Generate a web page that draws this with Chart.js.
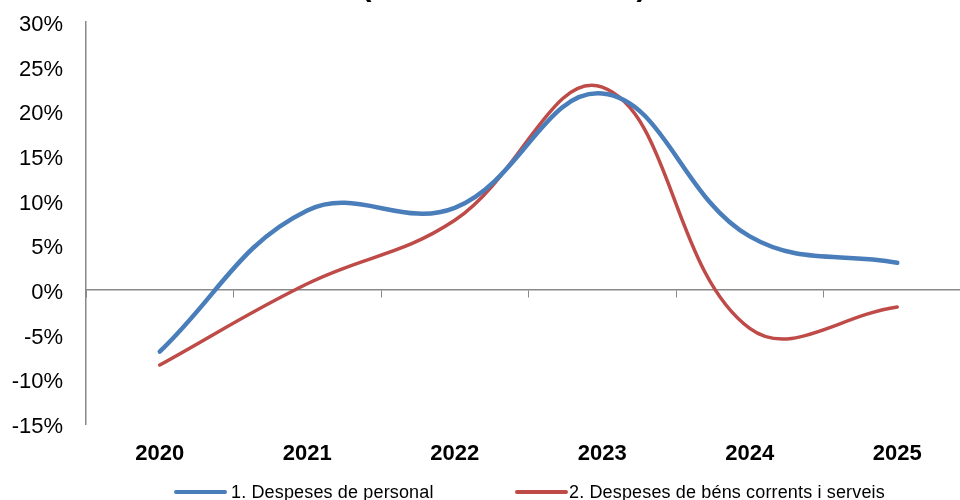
<!DOCTYPE html>
<html>
<head>
<meta charset="utf-8">
<script src="https://cdn.jsdelivr.net/npm/chart.js@4/dist/chart.umd.min.js"></script>
<style>
  html, body { margin: 0; padding: 0; background: #fff; }
  body { width: 960px; height: 500px; overflow: hidden; position: relative; font-family: "Liberation Sans", Arial, sans-serif; }
  #wrap { position: absolute; left: 0; top: -30px; width: 971px; height: 530px; }
  .lg-line { position: absolute; height: 4px; border-radius: 2px; }
  .lg-text { position: absolute; font-size: 18px; line-height: 20px; color: #000; white-space: nowrap; letter-spacing: 0.15px; }
</style>
</head>
<body>
<div id="wrap"><canvas id="c" width="971" height="530"></canvas></div>
<div class="lg-line" style="left:174px; top:490px; width:53px; background:#4A7EBB;"></div>
<div class="lg-text" id="lg1" style="left:231px; top:482px;"></div>
<div class="lg-line" style="left:515px; top:490px; width:53px; background:#BE4B48;"></div>
<div class="lg-text" id="lg2" style="left:569px; top:482px;"></div>
<script>
const chartTitle = "(variació interanual)";
const years = ["2020", "2021", "2022", "2023", "2024", "2025"];
const seriesNames = ["1. Despeses de personal", "2. Despeses de béns corrents i serveis"];
const personal = [-6.9, 8.9, 9.2, 22.0, 6.0, 3.05];
const bensServeis = [-8.4, 0.7, 7.8, 22.7, -4.3, -1.9];
const yTicks = [-15, -10, -5, 0, 5, 10, 15, 20, 25, 30];

document.getElementById("lg1").textContent = seriesNames[0];
document.getElementById("lg2").textContent = seriesNames[1];

const axisGray = "#898989";

const titlePlugin = {
  id: "partialTitle",
  afterDraw(chart) {
    const ctx = chart.ctx;
    ctx.save();
    ctx.font = 'bold 30px "Liberation Sans", Arial, sans-serif';
    ctx.fillStyle = "#000";
    ctx.textAlign = "center";
    ctx.textBaseline = "alphabetic";
    ctx.fillText(chartTitle, 504, 26);
    ctx.restore();
  }
};

new Chart(document.getElementById("c"), {
  type: "line",
  data: {
    labels: years,
    datasets: [
      {
        label: seriesNames[0],
        data: personal,
        borderColor: "#4A7EBB",
        backgroundColor: "#4A7EBB",
        borderWidth: 4.5,
        pointRadius: 0,
        tension: 0.4,
        borderCapStyle: "round",
        xAxisID: "x"
      },
      {
        label: seriesNames[1],
        data: bensServeis,
        borderColor: "#BE4B48",
        backgroundColor: "#BE4B48",
        borderWidth: 3.5,
        pointRadius: 0,
        tension: 0.4,
        borderCapStyle: "round",
        xAxisID: "x"
      }
    ]
  },
  options: {
    responsive: false,
    animation: false,
    devicePixelRatio: 1,
    layout: { padding: { top: 52, left: 0, right: 0, bottom: 0 } },
    plugins: {
      legend: { display: false },
      tooltip: { enabled: false },
      title: { display: false }
    },
    scales: {
      x: {
        type: "category",
        axis: "x",
        position: { y: 0 },
        offset: true,
        grid: { display: true, offset: true, drawOnChartArea: false, drawTicks: true, tickLength: 7, color: axisGray, lineWidth: 1 },
        border: { display: true, color: axisGray, width: 1.5 },
        ticks: { display: false }
      },
      x2: {
        type: "category",
        axis: "x",
        position: "bottom",
        offset: true,
        grid: { display: false, drawTicks: false },
        border: { display: false },
        ticks: {
          padding: 17,
          color: "#000",
          font: { family: '"Liberation Sans", Arial, sans-serif', size: 22, weight: "bold" },
          maxRotation: 0
        },
        afterFit(scale) { scale.height = 76; }
      },
      y: {
        type: "linear",
        position: "left",
        min: -15,
        max: 30,
        afterBuildTicks(scale) { scale.ticks = yTicks.map(v => ({ value: v })); },
        grid: { display: false, drawTicks: false },
        border: { display: true, color: axisGray, width: 1.5 },
        ticks: {
          padding: 23,
          labelOffset: 3,
          color: "#000",
          font: { family: '"Liberation Sans", Arial, sans-serif', size: 22 },
          callback: v => v + "%"
        },
        afterFit(scale) { scale.width = 86; }
      }
    }
  },
  plugins: [titlePlugin]
});
</script>
</body>
</html>
